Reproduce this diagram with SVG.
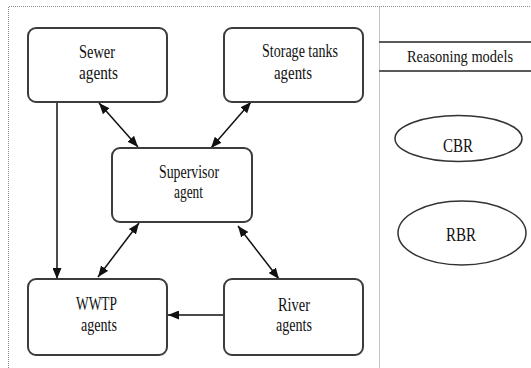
<svg xmlns="http://www.w3.org/2000/svg" width="531" height="368" viewBox="0 0 531 368" font-family="'Liberation Serif', 'DejaVu Serif', serif">
  <style>
    .frame { fill: none; stroke: #8a8a8a; stroke-width: 1; stroke-dasharray: 1 1; }
    .box { fill: #ffffff; stroke: #3c3c3c; stroke-width: 2; }
    .oval { fill: #ffffff; stroke: #333333; stroke-width: 1.5; }
    .band { stroke: #5a5a5a; stroke-width: 2; }
    .edge { fill: none; stroke: #111111; stroke-width: 1.5; }
    .lbl { font-family: "Liberation Serif", "DejaVu Serif", serif; font-size: 19px; fill: #111111; }
  </style>
  <defs>
    <marker id="head" viewBox="0 0 10 10" refX="10" refY="5" markerWidth="11" markerHeight="9" orient="auto-start-reverse" markerUnits="userSpaceOnUse" preserveAspectRatio="none">
      <path d="M0,0 L10,5 L0,10 z" fill="#111111"/>
    </marker>
  </defs>
  <rect width="531" height="368" fill="#ffffff"/>

  <!-- panel frame and divider -->
  <g id="frame">
    <path class="frame" d="M8.5,368 V6.5 H531"/>
    <path class="frame" d="M379.5,6.5 V368"/>
  </g>

  <!-- connectors -->
  <g id="connectors">
    <line class="edge" x1="99" y1="103" x2="138" y2="147" marker-start="url(#head)" marker-end="url(#head)"/>
    <line class="edge" x1="251" y1="102" x2="211" y2="148" marker-start="url(#head)" marker-end="url(#head)"/>
    <line class="edge" x1="139" y1="223" x2="98" y2="277" marker-start="url(#head)" marker-end="url(#head)"/>
    <line class="edge" x1="238" y1="226" x2="279" y2="279" marker-start="url(#head)" marker-end="url(#head)"/>
    <line class="edge" x1="57" y1="102" x2="57" y2="279" marker-end="url(#head)"/>
    <line class="edge" x1="224" y1="315" x2="168" y2="315" marker-end="url(#head)"/>
  </g>

  <g id="sewer">
    <rect class="box" x="28" y="28" width="139" height="74" rx="8"/>
    <text class="lbl" x="97" y="58" text-anchor="middle" textLength="36" lengthAdjust="spacingAndGlyphs">Sewer</text>
    <text class="lbl" x="98.5" y="79" text-anchor="middle" textLength="39" lengthAdjust="spacingAndGlyphs">agents</text>
  </g>

  <g id="storage">
    <rect class="box" x="224" y="28" width="139" height="74" rx="8"/>
    <text class="lbl" x="300" y="57" text-anchor="middle" textLength="76" lengthAdjust="spacingAndGlyphs">Storage tanks</text>
    <text class="lbl" x="293" y="79" text-anchor="middle" textLength="38" lengthAdjust="spacingAndGlyphs">agents</text>
  </g>

  <g id="supervisor">
    <rect class="box" x="112" y="148" width="140" height="74" rx="8"/>
    <text class="lbl" x="189" y="178" text-anchor="middle" textLength="60" lengthAdjust="spacingAndGlyphs">Supervisor</text>
    <text class="lbl" x="188.5" y="198" text-anchor="middle" textLength="29" lengthAdjust="spacingAndGlyphs">agent</text>
  </g>

  <g id="wwtp">
    <rect class="box" x="28" y="279" width="139" height="76" rx="8"/>
    <text class="lbl" x="96.5" y="310" text-anchor="middle" textLength="41" lengthAdjust="spacingAndGlyphs">WWTP</text>
    <text class="lbl" x="99" y="331" text-anchor="middle" textLength="36" lengthAdjust="spacingAndGlyphs">agents</text>
  </g>

  <g id="river">
    <rect class="box" x="224" y="279" width="139" height="76" rx="8"/>
    <text class="lbl" x="294" y="311" text-anchor="middle" textLength="32" lengthAdjust="spacingAndGlyphs">River</text>
    <text class="lbl" x="294" y="331" text-anchor="middle" textLength="36" lengthAdjust="spacingAndGlyphs">agents</text>
  </g>

  <g id="reasoning-models">
    <line class="band" x1="379" y1="42" x2="531" y2="42"/>
    <line class="band" x1="379" y1="71" x2="531" y2="71"/>
    <text class="lbl" x="460" y="62" text-anchor="middle" textLength="106" lengthAdjust="spacingAndGlyphs" style="font-size:17px">Reasoning models</text>
  </g>

  <g id="cbr">
    <ellipse class="oval" cx="458.5" cy="138.5" rx="63.5" ry="23"/>
    <text class="lbl" x="458" y="152" text-anchor="middle" textLength="30" lengthAdjust="spacingAndGlyphs">CBR</text>
  </g>

  <g id="rbr">
    <ellipse class="oval" cx="462" cy="233" rx="64" ry="32"/>
    <text class="lbl" x="461" y="241" text-anchor="middle" textLength="30" lengthAdjust="spacingAndGlyphs">RBR</text>
  </g>
</svg>
